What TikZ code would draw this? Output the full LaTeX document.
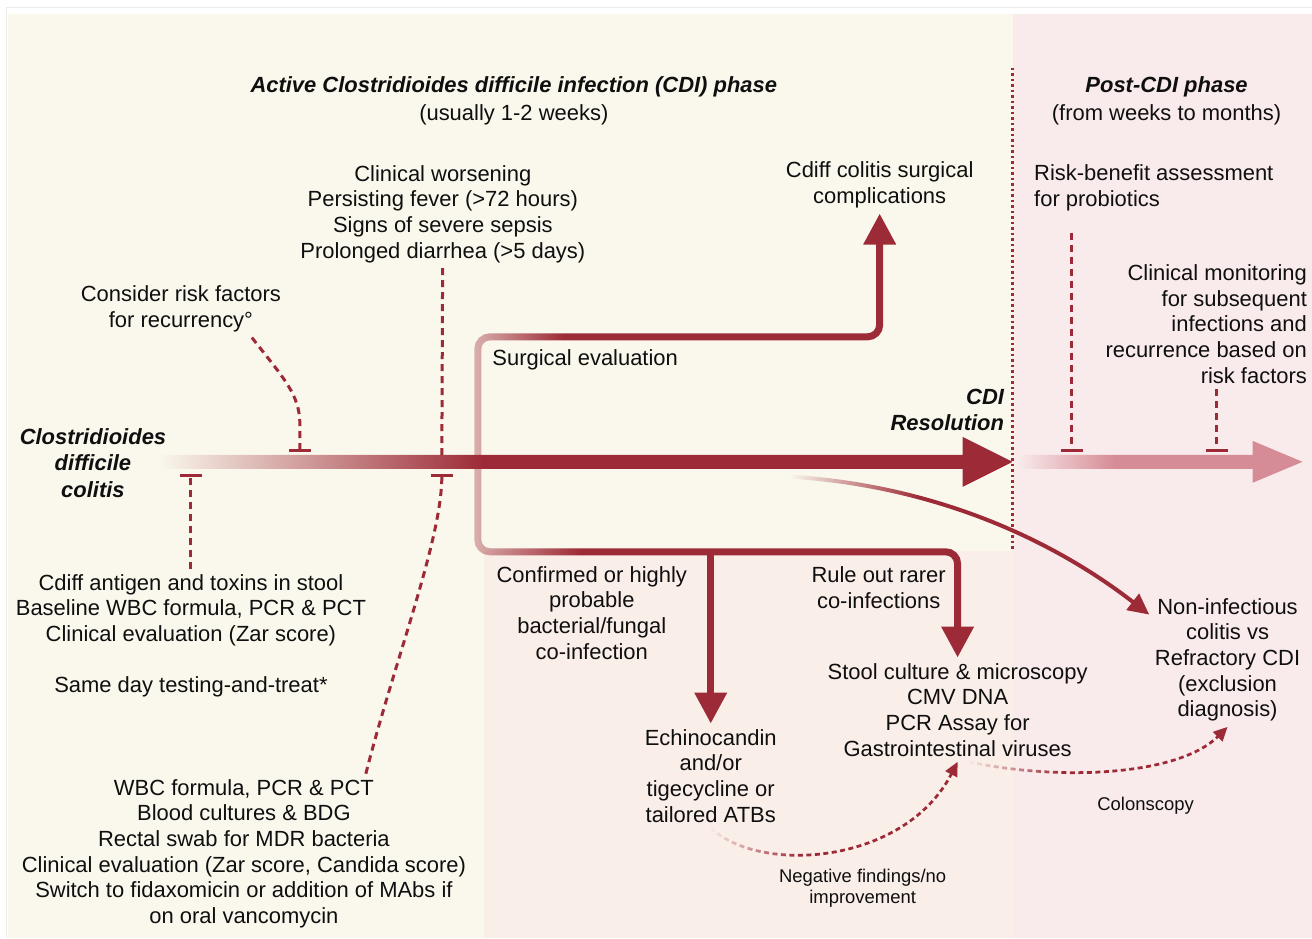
\documentclass[tikz,border=0pt]{standalone}
\usepackage{fontspec}
\setmainfont{Liberation Sans}
\usepackage{tikz}
\usetikzlibrary{arrows.meta,fadings}

\definecolor{creamBg}{RGB}{250,248,237}
\definecolor{postBg}{RGB}{249,235,235}
\definecolor{peachBg}{RGB}{250,238,233}
\definecolor{cdiRed}{RGB}{157,43,55}
\definecolor{postRed}{RGB}{214,140,150}
\definecolor{inkText}{RGB}{15,15,15}

\pgfdeclarehorizontalshading{mainBarShade}{100bp}{color(0bp)=(creamBg); color(25bp)=(creamBg); color(44bp)=(cdiRed); color(100bp)=(cdiRed)}
\pgfdeclarehorizontalshading{postBarShade}{100bp}{color(0bp)=(postBg); color(25bp)=(postBg); color(42bp)=(postRed); color(100bp)=(postRed)}
\pgfdeclarehorizontalshading{branchFadeShade}{100bp}{color(0bp)=(black!65); color(25bp)=(black!65); color(36bp)=(white); color(100bp)=(white)}
\pgfdeclarefading{branchFade}{\pgfuseshading{branchFadeShade}}
\pgfdeclarehorizontalshading{curveFadeShade}{100bp}{color(0bp)=(black); color(25bp)=(black); color(43bp)=(white); color(100bp)=(white)}
\pgfdeclarefading{curveFade}{\pgfuseshading{curveFadeShade}}

\begin{document}
\begin{tikzpicture}[x=0.02cm, y=-0.02cm,
	txt/.style={align=center, text=inkText, font=\fontsize{12.5}{14.6}\selectfont, inner sep=3pt},
	smalltxt/.style={align=center, text=inkText, font=\fontsize{10.5}{11.9}\selectfont, inner sep=2pt},
	hdr/.style={txt, font=\fontsize{12.5}{15}\selectfont\bfseries\itshape},
	inhibPlain/.style={cdiRed, line width=0.06cm, dash pattern=on 0.14cm off 0.1cm},
	inhib/.style={inhibPlain, -{Bar[width=0.44cm, line width=0.06cm]}},
	branch/.style={cdiRed, line width=0.14cm, rounded corners=0.24cm, -{Triangle[length=0.62cm, width=0.62cm]}},
	thinArrow/.style={cdiRed, line width=0.08cm, -{Triangle[length=0.42cm, width=0.4cm]}},
	dotArrow/.style={cdiRed, line width=0.055cm, dash pattern=on 0.1cm off 0.07cm, -{Triangle[length=0.28cm, width=0.26cm]}},
	phaseLine/.style={cdiRed, line width=0.05cm, dash pattern=on 0.05cm off 0.06cm}]
	
	% backgrounds
	\fill[white] (0,0) rectangle (1312,938);
	\fill[creamBg] (8,14) rectangle (1013,938);
	\fill[postBg] (1013,14) rectangle (1312,938);
	\fill[peachBg] (484,551) rectangle (1013,938);
	\draw[black!8, line width=0.02cm] (7,938) |- (1312,8);
	\useasboundingbox (0,0) rectangle (1312,938);
	
	\coordinate (barStart) at (158,462);
	\coordinate (resolPt) at (1013,462);
	\coordinate (postStart) at (1018,462);
	\coordinate (postEnd) at (1303,462);
	\coordinate (fork) at (478,462);
	\coordinate (split) at (711,552);
	\coordinate (curveStart) at (792,477);
	\coordinate (phaseTop) at (1013,68);
	\coordinate (phaseBottom) at (1013,550);
	\coordinate (tRisk) at (300,452);
	\coordinate (tTests) at (191,474);
	\coordinate (tTop) at (442,455);
	\coordinate (tLow) at (442,474);
	\coordinate (probioFoot) at (1072,233);
	\coordinate (tProbio) at (1072,452);
	\coordinate (tMonitor) at (1217,452);
	
	\node (activeTitle) at (514,101) [txt] {{\bfseries\itshape Active Clostridioides difficile infection (CDI) phase}\\[0.05cm](usually 1-2 weeks)};
	\node (postTitle) at (1167,101) [txt] {{\bfseries\itshape Post-CDI phase}\\[0.05cm](from weeks to months)};
	\node (worsening) at (443,214) [txt] {Clinical worsening\\Persisting fever (>72 hours)\\Signs of severe sepsis\\Prolonged diarrhea (>5 days)};
	\node (riskFac) at (181,309) [txt] {Consider risk factors\\for recurrency°};
	\node (surgComp) at (880,185) [txt] {Cdiff colitis surgical\\complications};
	\node (probio) at (1029,188) [txt, anchor=west, align=left] {Risk-benefit assessment\\for probiotics};
	\node (monitor) at (1313,324) [txt, anchor=east, align=right] {Clinical monitoring\\for subsequent\\infections and\\recurrence based on\\risk factors};
	\node (cdColitis) at (93,463) [hdr] {Clostridioides\\difficile\\colitis};
	\node (cdiRes) at (1010,410) [hdr, anchor=east, align=right] {CDI\\Resolution};
	\node (surgEval) at (487,360) [txt, anchor=west] {Surgical evaluation};
	\node (cdiffTests) at (191,636) [txt] {Cdiff antigen and toxins in stool\\Baseline WBC formula, PCR \& PCT\\Clinical evaluation (Zar score)\\[0.51cm]Same day testing-and-treat*};
	\node (secondTests) at (244,854) [txt] {WBC formula, PCR \& PCT\\Blood cultures \& BDG\\Rectal swab for MDR bacteria\\Clinical evaluation (Zar score, Candida score)\\Switch to fidaxomicin or addition of MAbs if\\on oral vancomycin};
	\node (confirmed) at (592,613) [txt] {Confirmed or highly\\probable\\bacterial/fungal\\co-infection};
	\node (ruleOut) at (879,588) [txt] {Rule out rarer\\co-infections};
	\node (echino) at (711,776) [txt] {Echinocandin\\and/or\\tigecycline or\\tailored ATBs};
	\node (stool) at (958,710) [txt] {Stool culture \& microscopy\\CMV DNA\\PCR Assay for\\Gastrointestinal viruses};
	\node (nonInf) at (1228,660) [txt] {Non-infectious\\colitis vs\\Refractory CDI\\(exclusion\\diagnosis)};
	\node (negFind) at (863,889) [smalltxt] {Negative findings/no\\improvement};
	\node (colon) at (1146,806) [smalltxt] {Colonscopy};
	
	\draw[phaseLine] (phaseTop) -- (phaseBottom);
	
	% branches off the timeline
	\draw[branch, path fading=branchFade] (fork) |- (880,337) -- (surgComp);
	\draw[branch, path fading=branchFade] (fork) |- (958,552) -- (stool);
	\draw[branch] (split) -- (echino);
	\draw[thinArrow, path fading=curveFade] (curveStart) .. controls (920,485) and (1040,530) .. (nonInf.150);
	\draw[dotArrow, path fading=curveFade] (echino.south) .. controls (760,875) and (905,865) .. (stool.south);
	\draw[dotArrow, path fading=curveFade] ([xshift=0.22cm]stool.south) .. controls (1065,782) and (1180,775) .. (nonInf.south);
	
	% timeline arrows
	\shade[shading=mainBarShade] ([yshift=0.14cm]barStart) -- ([xshift=-1cm, yshift=0.14cm]resolPt) -- ([xshift=-1cm, yshift=0.5cm]resolPt) -- (resolPt) -- ([xshift=-1cm, yshift=-0.5cm]resolPt) -- ([xshift=-1cm, yshift=-0.14cm]resolPt) -- ([yshift=-0.14cm]barStart) -- cycle;
	\shade[shading=postBarShade] ([yshift=0.14cm]postStart) -- ([xshift=-1cm, yshift=0.14cm]postEnd) -- ([xshift=-1cm, yshift=0.42cm]postEnd) -- (postEnd) -- ([xshift=-1cm, yshift=-0.42cm]postEnd) -- ([xshift=-1cm, yshift=-0.14cm]postEnd) -- ([yshift=-0.14cm]postStart) -- cycle;
	
	% inhibitors
	\draw[inhib] ([xshift=1.42cm]riskFac.south) .. controls (285,380) and (300,395) .. (300,425) -- (tRisk);
	\draw[inhib] (cdiffTests) -- (tTests);
	\draw[inhibPlain] (worsening) -- (tTop);
	\draw[inhib] ([xshift=2.44cm]secondTests.north) .. controls (395,660) and (442,540) .. (tLow);
	\draw[inhib] (probioFoot) -- (tProbio);
	\draw[inhib] (monitor.south -| tMonitor) -- (tMonitor);
\end{tikzpicture}
\end{document}
